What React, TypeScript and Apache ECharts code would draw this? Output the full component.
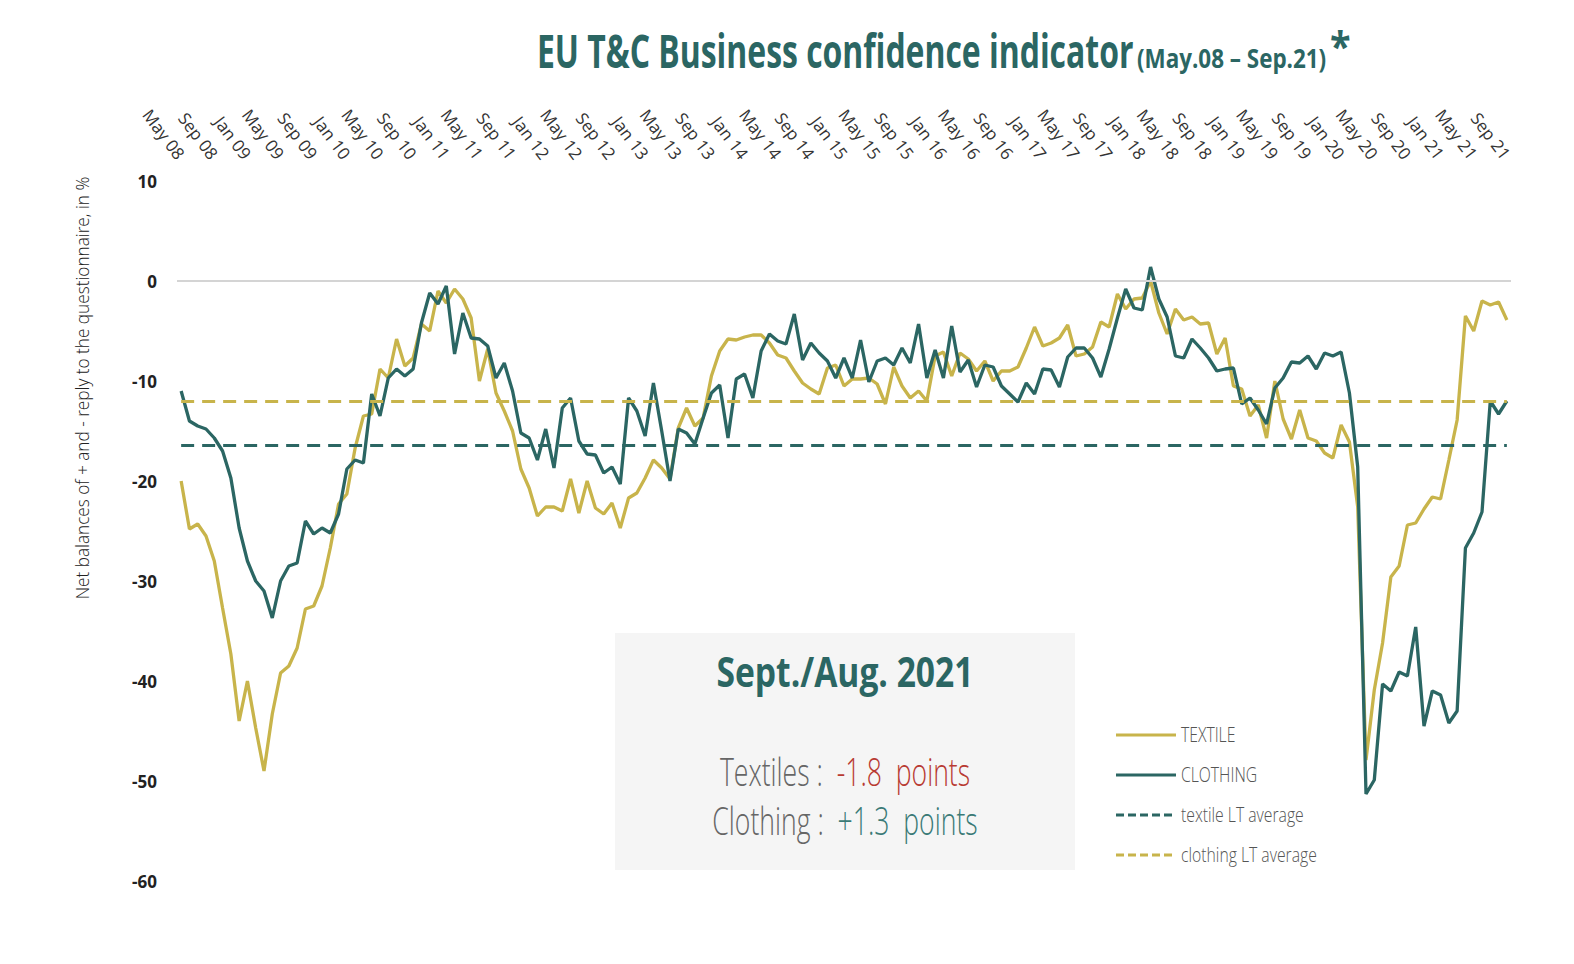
import React, { useEffect, useRef } from "react";
import * as echarts from "echarts";

const MONTHS = ["Jan", "Feb", "Mar", "Apr", "May", "Jun", "Jul", "Aug", "Sep", "Oct", "Nov", "Dec"];
const START_YEAR = 2008;
const START_MONTH = 4; // May
const N_MONTHS = 161; // May 08 .. Sep 21

const categories: string[] = [];
for (let i = 0; i < N_MONTHS; i++) {
  const m = (START_MONTH + i) % 12;
  const y = START_YEAR + Math.floor((START_MONTH + i) / 12);
  categories.push(MONTHS[m] + " " + String(y % 100).padStart(2, "0"));
}

const textile = [
  -20.0, -24.8, -24.3, -25.5, -28, -32.7, -37.3, -44, -40, -44.7,
  -49, -43.3, -39.2, -38.5, -36.7, -32.8, -32.5, -30.5, -26.7, -22.3,
  -21.3, -16.7, -13.5, -13.3, -8.8, -9.7, -5.8, -8.5, -7.7, -4.3,
  -5.0, -1.0, -2.2, -0.8, -1.8, -3.7, -10, -6.8, -11.2, -13,
  -15, -18.8, -20.7, -23.5, -22.6, -22.6, -23, -19.8, -23.2, -20,
  -22.7, -23.3, -22.2, -24.7, -21.7, -21.2, -19.7, -17.9, -18.7, -19.8,
  -14.7, -12.7, -14.5, -13.7, -9.5, -7, -5.8, -5.9, -5.6, -5.4,
  -5.4, -6.2, -7.4, -7.7, -9, -10.2, -10.8, -11.3, -8.7, -8.4,
  -10.5, -9.8, -9.8, -9.7, -10.3, -12.3, -8.6, -10.5, -11.7, -11,
  -12, -7.5, -7.1, -9.5, -7.2, -7.8, -9, -8, -10, -9,
  -9, -8.6, -6.7, -4.6, -6.5, -6.2, -5.7, -4.4, -7.5, -7.3,
  -6.6, -4.1, -4.6, -1.3, -2.8, -1.8, -1.7, 0, -3.2, -5.3,
  -2.8, -3.9, -3.6, -4.3, -4.2, -7.3, -5.7, -10.5, -10.8, -13.5,
  -12.4, -15.7, -10, -13.8, -15.8, -12.9, -15.7, -16, -17.2, -17.7,
  -14.4, -16.1, -22.6, -47.9, -40.9, -36.2, -29.6, -28.5, -24.4, -24.2,
  -22.8, -21.6, -21.8, -17.9, -13.9, -3.5, -5, -2, -2.4, -2.1,
  -3.9,
];

const clothing = [
  -11, -14, -14.5, -14.8, -15.7, -17, -19.7, -24.7, -28, -30,
  -31, -33.7, -30, -28.5, -28.2, -24, -25.3, -24.7, -25.2, -23.3,
  -18.8, -17.9, -18.2, -11.3, -13.5, -9.7, -8.8, -9.5, -8.8, -4.2,
  -1.2, -2.3, -0.5, -7.3, -3.2, -5.7, -5.8, -6.5, -9.7, -8.2,
  -11, -15.2, -15.7, -17.9, -14.8, -18.7, -12.7, -11.7, -16, -17.3,
  -17.4, -19.2, -18.6, -20.3, -11.7, -13, -15.5, -10.2, -15, -20,
  -14.8, -15.2, -16.3, -13.7, -11.2, -10.4, -15.7, -9.8, -9.3, -11.7,
  -7, -5.3, -6, -6.3, -3.3, -7.9, -6.2, -7.2, -8, -9.7,
  -7.7, -9.7, -5.9, -10.1, -8, -7.7, -8.4, -6.7, -8.2, -4.3,
  -9.7, -6.9, -9.7, -4.5, -9.1, -7.9, -10.6, -8.4, -8.6, -10.5,
  -11.3, -12.1, -10.2, -11.3, -8.8, -8.9, -10.6, -7.6, -6.7, -6.7,
  -7.7, -9.6, -6.8, -3.7, -0.8, -2.7, -2.9, 1.4, -1.8, -3.6,
  -7.5, -7.7, -5.8, -6.7, -7.7, -9, -8.8, -8.7, -12.3, -11.7,
  -12.9, -14.3, -10.7, -9.7, -8.1, -8.2, -7.5, -8.8, -7.2, -7.5,
  -7.1, -11.2, -18.6, -51.3, -49.9, -40.3, -41, -39.1, -39.5, -34.6,
  -44.5, -41, -41.4, -44.2, -43, -26.7, -25.2, -23.1, -12, -13.3,
  -12,
];

const TEXTILE_LT_AVG = -16.4;
const CLOTHING_LT_AVG = -12.0;

const SERIES_NAMES = ["TEXTILE", "CLOTHING", "textile LT average", "clothing LT average"];

const YELLOW = "#C8B44B";
const TEAL = "#2B6663";
const FONT = "'Open Sans','Noto Sans',sans-serif";

function condText(x: number, y: number, text: string, size: number, fill: string, scaleX: number, weight: any, align = "left") {
  return {
    type: "text",
    x,
    y,
    scaleX,
    style: { text, fontFamily: FONT, fontSize: size, fontWeight: weight, fill, align, verticalAlign: "middle" },
  };
}

export default function App() {
  const ref = useRef<HTMLDivElement>(null);

  useEffect(() => {
    if (!ref.current) return;
    const chart = echarts.init(ref.current, undefined, { renderer: "svg" });
    const first = categories[0];
    const last = categories[categories.length - 1];

    const legendRows = [
      { name: SERIES_NAMES[0], color: YELLOW, dash: null as any, y: 735 },
      { name: SERIES_NAMES[1], color: TEAL, dash: null as any, y: 775 },
      { name: SERIES_NAMES[2], color: TEAL, dash: [8, 4], y: 815 },
      { name: SERIES_NAMES[3], color: YELLOW, dash: [8, 4], y: 855 },
    ];
    const legendGraphics: any[] = [];
    legendRows.forEach((r) => {
      legendGraphics.push({
        type: "line",
        shape: { x1: 1116, y1: r.y, x2: 1176, y2: r.y },
        style: { stroke: r.color, lineWidth: 3, lineDash: r.dash || undefined },
      });
      legendGraphics.push(condText(1181, r.y - 1, r.name, 21, "#555", 0.75, 300));
    });

    const option: any = {
      animation: false,
      backgroundColor: "#ffffff",
      grid: { left: 177, right: 63, top: 181, bottom: 83 },
      xAxis: {
        type: "category",
        position: "top",
        data: categories,
        boundaryGap: true,
        axisLine: { show: false },
        axisTick: { show: false },
        axisLabel: {
          interval: 3,
          rotate: -53,
          fontSize: 17,
          color: "#333",
          fontFamily: FONT,
          margin: 24,
        },
      },
      yAxis: {
        type: "value",
        min: -60,
        max: 10,
        interval: 10,
        axisLine: { show: false },
        axisTick: { show: false },
        splitLine: { show: false },
        axisLabel: { fontWeight: "bold", fontSize: 17, color: "#222", margin: 20, fontFamily: FONT },
      },
      graphic: [
        // title
        condText(537, 51, "EU T&C Business confidence indicator", 46, TEAL, 0.694, "bold"),
        condText(1137, 57, "(May.08 – Sep.21)", 27, TEAL, 0.83, "bold"),
        condText(1330, 45, "*", 42, TEAL, 0.9, "bold"),
        {
          type: "text",
          x: 82,
          y: 388,
          rotation: Math.PI / 2,
          scaleX: 0.905,
          style: {
            text: "Net balances of + and - reply to the questionnaire, in %",
            fontFamily: FONT,
            fontSize: 19,
            fontWeight: 300,
            fill: "#222",
            align: "center",
            verticalAlign: "middle",
          },
        },
        {
          type: "rect",
          shape: { x: 615, y: 633, width: 460, height: 237 },
          style: { fill: "#F5F5F5" },
          z: -1,
        },
        condText(845, 670, "Sept./Aug. 2021", 42, TEAL, 0.8, "bold", "center"),
        {
          type: "text",
          x: 845,
          y: 772,
          scaleX: 0.7,
          style: {
            text: "{g|Textiles :  }{r|-1.8  points}",
            align: "center",
            verticalAlign: "middle",
            rich: {
              g: { fontFamily: FONT, fontSize: 38, fontWeight: 300, fill: "#666", color: "#666" },
              r: { fontFamily: FONT, fontSize: 38, fontWeight: 300, fill: "#B83A32", color: "#B83A32" },
            },
          },
        },
        {
          type: "text",
          x: 845,
          y: 821,
          scaleX: 0.7,
          style: {
            text: "{g|Clothing :  }{t|+1.3  points}",
            align: "center",
            verticalAlign: "middle",
            rich: {
              g: { fontFamily: FONT, fontSize: 38, fontWeight: 300, fill: "#666", color: "#666" },
              t: { fontFamily: FONT, fontSize: 38, fontWeight: 300, fill: "#3A7A76", color: "#3A7A76" },
            },
          },
        },
        ...legendGraphics,
      ],
      series: [
        {
          name: "zero",
          type: "line",
          data: [],
          silent: true,
          markLine: {
            silent: true,
            symbol: ["none", "none"],
            label: { show: false },
            lineStyle: { color: "#d4d4d4", width: 2, type: "solid" },
            data: [{ yAxis: 0 }],
          },
        },
        {
          name: SERIES_NAMES[0],
          type: "line",
          data: textile,
          symbol: "none",
          lineStyle: { color: YELLOW, width: 3.3 },
          itemStyle: { color: YELLOW },
        },
        {
          name: SERIES_NAMES[1],
          type: "line",
          data: clothing,
          symbol: "none",
          lineStyle: { color: TEAL, width: 3.3 },
          itemStyle: { color: TEAL },
        },
        {
          name: SERIES_NAMES[2],
          type: "line",
          data: [],
          symbol: "none",
          markLine: {
            silent: true,
            symbol: ["none", "none"],
            label: { show: false },
            lineStyle: { color: TEAL, width: 3, type: [13, 8] },
            data: [[{ coord: [first, TEXTILE_LT_AVG] }, { coord: [last, TEXTILE_LT_AVG] }]],
          },
        },
        {
          name: SERIES_NAMES[3],
          type: "line",
          data: [],
          symbol: "none",
          markLine: {
            silent: true,
            symbol: ["none", "none"],
            label: { show: false },
            lineStyle: { color: YELLOW, width: 3, type: [13, 8] },
            data: [[{ coord: [first, CLOTHING_LT_AVG] }, { coord: [last, CLOTHING_LT_AVG] }]],
          },
        },
      ],
    };
    chart.setOption(option);
    return () => chart.dispose();
  }, []);

  return (
    <div
      ref={ref}
      style={{ position: "fixed", left: 0, top: 0, width: 1574, height: 964, background: "#fff" }}
    />
  );
}
